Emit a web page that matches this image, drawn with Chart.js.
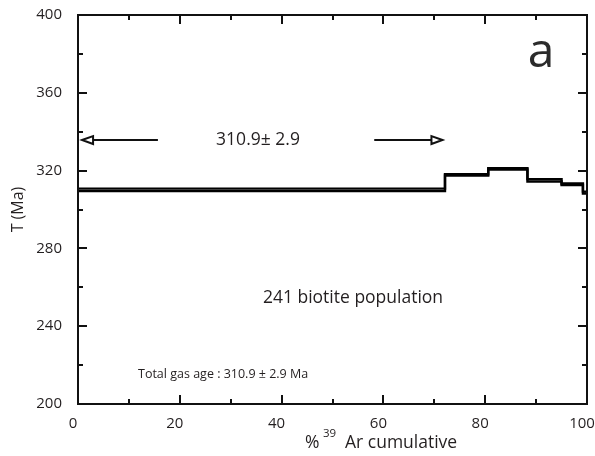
<!DOCTYPE html>
<html>
<head>
<meta charset="utf-8">
<script src="https://cdn.jsdelivr.net/npm/chart.js@4/dist/chart.umd.min.js"></script>
<style>
  html, body { margin: 0; padding: 0; background: #fff; }
  #c { display: block; }
</style>
</head>
<body>
<canvas id="c" width="595" height="456"></canvas>
<script>
// ---- data ----
const stepStarts = [0, 72.1, 80.6, 88.3, 95.0, 99.2];   // % 39Ar cumulative at start of each step
const stepAges   = [310.1, 317.8, 320.9, 315.0, 313.0, 308.7]; // apparent age (Ma)
const stepHalf   = [0.65, 0.35, 0.35, 0.6, 0.4, 0.5];     // half height of each step box (Ma)
const xTicks = [0, 20, 40, 60, 80, 100];
const yTicks = [200, 240, 280, 320, 360, 400];
const plateauLabel = '310.9\u00b1 2.9';
const populationLabel = '241 biotite population';
const totalGasLabel = 'Total gas age : 310.9 \u00b1 2.9 Ma';
const panelLabel = 'a';
// plateau arrows (x range in %, y level in Ma)
const arrowLeft  = [15.7, 0.8];
const arrowRight = [58.2, 71.6];
const arrowLevel = 335.7;

const FONT = "'Open Sans', 'DejaVu Sans', sans-serif";
const INK = '#231f20';

function stepPoints(sign) {
  const pts = stepStarts.map((x, i) => ({ x: x, y: stepAges[i] + sign * stepHalf[i] }));
  const last = stepAges.length - 1;
  pts.push({ x: 100, y: stepAges[last] + sign * stepHalf[last] });
  return pts;
}

const framePlugin = {
  id: 'frame',
  afterDraw(chart) {
    const { ctx, chartArea: a, scales: { x, y } } = chart;
    ctx.save();
    ctx.strokeStyle = '#111';
    ctx.lineWidth = 2;
    ctx.strokeRect(a.left, a.top, a.right - a.left, a.bottom - a.top);
    // inward ticks
    ctx.beginPath();
    for (let v = 10; v < 100; v += 10) {
      const px = Math.round(x.getPixelForValue(v));
      const len = v % 20 === 0 ? 9 : 5;
      ctx.moveTo(px, a.bottom); ctx.lineTo(px, a.bottom - len);
      ctx.moveTo(px, a.top); ctx.lineTo(px, a.top + len);
    }
    for (let v = 220; v < 400; v += 20) {
      const py = Math.round(y.getPixelForValue(v));
      const len = (v - 200) % 40 === 0 ? 9 : 5;
      ctx.moveTo(a.left, py); ctx.lineTo(a.left + len, py);
      ctx.moveTo(a.right, py); ctx.lineTo(a.right - len, py);
    }
    ctx.stroke();

    // arrows
    const ay = y.getPixelForValue(arrowLevel);
    function arrow(x0, x1) {
      const p0 = x.getPixelForValue(x0), p1 = x.getPixelForValue(x1);
      const dir = Math.sign(p1 - p0);
      ctx.lineWidth = 2;
      ctx.beginPath();
      ctx.moveTo(p0, ay); ctx.lineTo(p1 - dir * 10, ay);
      ctx.stroke();
      ctx.lineWidth = 2;
      ctx.beginPath();
      ctx.moveTo(p1, ay);
      ctx.lineTo(p1 - dir * 11, ay - 4);
      ctx.lineTo(p1 - dir * 11, ay + 4);
      ctx.closePath();
      ctx.fillStyle = '#fff';
      ctx.fill();
      ctx.stroke();
    }
    arrow(arrowLeft[0], arrowLeft[1]);
    arrow(arrowRight[0], arrowRight[1]);

    // texts
    ctx.fillStyle = INK;
    ctx.textBaseline = 'middle';
    ctx.textAlign = 'center';
    ctx.font = '17.5px ' + FONT;
    ctx.fillText(plateauLabel, 258, ay);
    ctx.fillText(populationLabel, 353, 298);
    ctx.textAlign = 'left';
    ctx.font = '12.5px ' + FONT;
    ctx.fillText(totalGasLabel, 138, 374);
    ctx.textAlign = 'center';
    ctx.font = '48px ' + FONT;
    ctx.fillStyle = '#2b2b2b';
    ctx.fillText(panelLabel, 541, 53);

    // x axis title with superscript
    ctx.fillStyle = INK;
    ctx.textAlign = 'left';
    ctx.textBaseline = 'alphabetic';
    ctx.font = '17.5px ' + FONT;
    ctx.fillText('%', 305, 448);
    ctx.font = '11.5px ' + FONT;
    ctx.fillText('39', 323, 437);
    ctx.font = '17.5px ' + FONT;
    ctx.fillText('Ar cumulative', 345, 448);
    ctx.restore();
  }
};

const lineStyle = {
  borderColor: '#000',
  borderWidth: 2.4,
  pointRadius: 0,
  fill: false,
  stepped: 'before',
  tension: 0
};

function noPad(s) {
  s.paddingTop = 0; s.paddingBottom = 0; s.paddingLeft = 0; s.paddingRight = 0;
}

new Chart(document.getElementById('c'), {
  type: 'line',
  data: {
    datasets: [
      Object.assign({ label: 'upper', data: stepPoints(1) }, lineStyle),
      Object.assign({ label: 'lower', data: stepPoints(-1) }, lineStyle)
    ]
  },
  options: {
    responsive: false,
    animation: false,
    events: [],
    layout: { padding: { top: 15, right: 8, left: 0, bottom: 0 } },
    plugins: { legend: { display: false }, tooltip: { enabled: false } },
    scales: {
      x: {
        type: 'linear',
        min: 0, max: 100,
        afterBuildTicks(s) { s.ticks = xTicks.map(v => ({ value: v })); },
        afterFit(s) { s.height = 52; noPad(s); },
        grid: { display: false, drawTicks: false },
        border: { display: false },
        ticks: { color: INK, font: { family: FONT, size: 15 }, padding: 11, labelOffset: -5, maxRotation: 0 }
      },
      y: {
        type: 'linear',
        min: 200, max: 400,
        afterBuildTicks(s) { s.ticks = yTicks.map(v => ({ value: v })); },
        afterFit(s) { s.width = 78; noPad(s); },
        grid: { display: false, drawTicks: false },
        border: { display: false },
        ticks: { color: INK, font: { family: FONT, size: 15 }, padding: 16 },
        title: { display: true, text: 'T (Ma)', color: INK, font: { family: FONT, size: 16 }, padding: { top: 9, bottom: 0 } }
      }
    }
  },
  plugins: [framePlugin]
});
</script>
</body>
</html>
